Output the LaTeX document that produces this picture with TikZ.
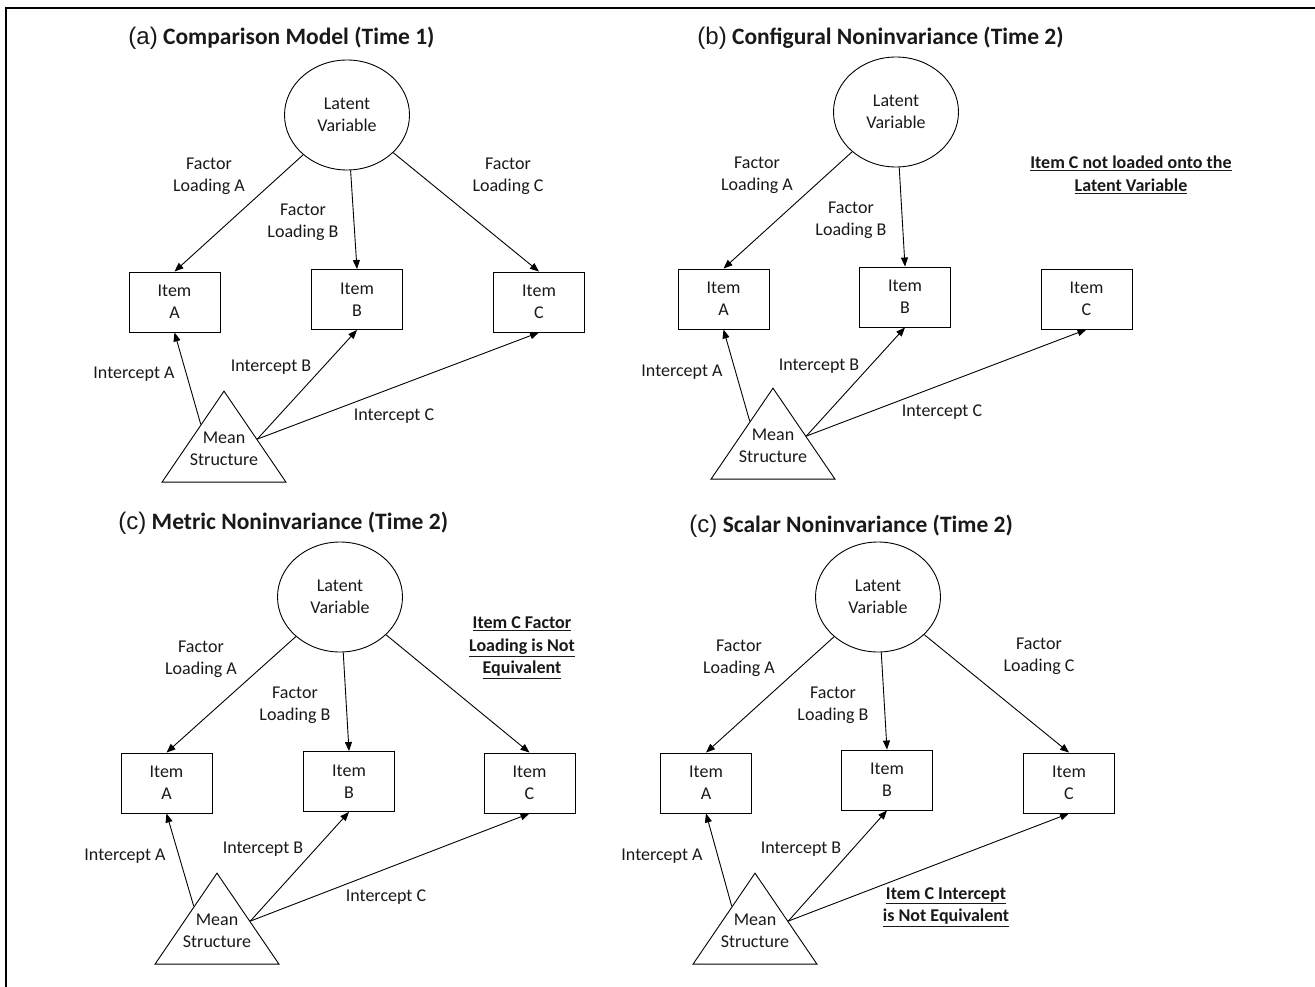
\documentclass[tikz,border=0pt]{standalone}
\usepackage{fontspec}
\setmainfont{Carlito}
\newfontfamily\arialfont{Liberation Sans}
\usepackage{xcolor}
\usepackage{tikz}
\usetikzlibrary{shapes.geometric,calc,arrows.meta}
\tikzstyle{latent} = [ellipse, draw=black, minimum width=125pt, minimum height=110pt, align=center, inner sep=0pt]
\tikzstyle{item} = [rectangle, draw=black, minimum width=91pt, minimum height=60pt, align=center]
\tikzstyle{mean} = [isosceles triangle, isosceles triangle stretches, shape border rotate=90, draw=black, minimum width=124pt, minimum height=91pt, inner sep=0pt, anchor=apex]
\tikzstyle{lbl} = [align=center, inner sep=1pt]
\tikzstyle{note} = [align=center, inner sep=1pt, font=\bfseries\fontsize{18}{22.5}\selectfont]
\tikzstyle{title} = [anchor=west, inner sep=0pt, font=\bfseries\fontsize{23.5}{27}\selectfont]
\tikzstyle{arrow} = [->, >={Triangle[length=9pt,width=7pt]}]
\newcommand{\panel}[1]{{\arialfont\mdseries\fontsize{24}{27}\selectfont (#1)}}

\begin{document}
\begin{tikzpicture}[x=1pt, y=-1pt, line width=0.9pt, font=\fontsize{18}{22}\selectfont, text=black!90]
    \useasboundingbox (0,0) rectangle (1315,987);
    \draw[line width=2.5pt] (6,990) -- (6,8) -- (1320,8);

    % (a) comparison model
    \node (title1) [title] at (128,38) {\panel{a} Comparison Model (Time 1)};
    \node (LV1) [latent] at (347,115) {Latent\\Variable};
    \node (ItemA1) [item] at (174.5,302) {Item\\A};
    \node (ItemB1) [item] at (357,299.5) {Item\\B};
    \node (ItemC1) [item] at (539,302) {Item\\C};
    \node (MS1) [mean] at (224,390) {};
    \node (MST1) [lbl] at (224,449) {Mean\\Structure};
    \node (FLA1) [lbl] at (209,176) {Factor\\Loading A};
    \node (FLB1) [lbl] at (303,222) {Factor\\Loading B};
    \node (FLC1) [lbl] at (508,176) {Factor\\Loading C};
    \node (ICA1) [lbl] at (134,374) {Intercept A};
    \node (ICB1) [lbl] at (271,367) {Intercept B};
    \node (ICC1) [lbl] at (394,416) {Intercept C};
    \draw [arrow] (LV1) -- (ItemA1.north);
    \draw [arrow] (LV1) -- (ItemB1.north);
    \draw [arrow] (LV1) -- (ItemC1.north);
    \draw [arrow] ($(MS1.apex)!0.37!(MS1.left corner)$) -- (ItemA1.south);
    \draw [arrow] ($(MS1.apex)!0.53!(MS1.right corner)$) -- (ItemB1.south);
    \draw [arrow] ($(MS1.apex)!0.53!(MS1.right corner)$) -- (ItemC1.south);

    % (b) configural noninvariance
    \node (title2) [title] at (697,38) {\panel{b} Configural Noninvariance (Time 2)};
    \node (LV2) [latent] at (896,112) {Latent\\Variable};
    \node (ItemA2) [item] at (723.5,299) {Item\\A};
    \node (ItemB2) [item] at (905,297) {Item\\B};
    \node (ItemC2) [item] at (1086.5,299) {Item\\C};
    \node (MS2) [mean] at (773,387) {};
    \node (MST2) [lbl] at (773,446) {Mean\\Structure};
    \node (FLA2) [lbl] at (757,175) {Factor\\Loading A};
    \node (FLB2) [lbl] at (851,220) {Factor\\Loading B};
    \node (note2) [note] at (1131,175) {\underline{Item C not loaded onto the}\\\underline{Latent Variable}};
    \node (ICA2) [lbl] at (682,372) {Intercept A};
    \node (ICB2) [lbl] at (819,366) {Intercept B};
    \node (ICC2) [lbl] at (942,412) {Intercept C};
    \draw [arrow] (LV2) -- (ItemA2.north);
    \draw [arrow] (LV2) -- (ItemB2.north);
    \draw [arrow] ($(MS2.apex)!0.37!(MS2.left corner)$) -- (ItemA2.south);
    \draw [arrow] ($(MS2.apex)!0.53!(MS2.right corner)$) -- (ItemB2.south);
    \draw [arrow] ($(MS2.apex)!0.53!(MS2.right corner)$) -- (ItemC2.south);

    % (c) metric noninvariance
    \node (title3) [title] at (118,523) {\panel{c} Metric Noninvariance (Time 2)};
    \node (LV3) [latent] at (340,597) {Latent\\Variable};
    \node (ItemA3) [item] at (166.5,783) {Item\\A};
    \node (ItemB3) [item] at (349,781.5) {Item\\B};
    \node (ItemC3) [item] at (529.5,783) {Item\\C};
    \node (MS3) [mean] at (217,872) {};
    \node (MST3) [lbl] at (217,931) {Mean\\Structure};
    \node (FLA3) [lbl] at (201,659) {Factor\\Loading A};
    \node (FLB3) [lbl] at (295,705) {Factor\\Loading B};
    \node (note3) [note] at (522,648) {\underline{Item C Factor}\\\underline{Loading is Not}\\\underline{Equivalent}};
    \node (ICA3) [lbl] at (125,856) {Intercept A};
    \node (ICB3) [lbl] at (263,849) {Intercept B};
    \node (ICC3) [lbl] at (386,897) {Intercept C};
    \draw [arrow] (LV3) -- (ItemA3.north);
    \draw [arrow] (LV3) -- (ItemB3.north);
    \draw [arrow] (LV3) -- (ItemC3.north);
    \draw [arrow] ($(MS3.apex)!0.37!(MS3.left corner)$) -- (ItemA3.south);
    \draw [arrow] ($(MS3.apex)!0.53!(MS3.right corner)$) -- (ItemB3.south);
    \draw [arrow] ($(MS3.apex)!0.53!(MS3.right corner)$) -- (ItemC3.south);

    % scalar noninvariance
    \node (title4) [title] at (689,526) {\panel{c} Scalar Noninvariance (Time 2)};
    \node (LV4) [latent] at (878,597) {Latent\\Variable};
    \node (ItemA4) [item] at (706,783) {Item\\A};
    \node (ItemB4) [item] at (887,780) {Item\\B};
    \node (ItemC4) [item] at (1069,783) {Item\\C};
    \node (MS4) [mean] at (755,872) {};
    \node (MST4) [lbl] at (755,931) {Mean\\Structure};
    \node (FLA4) [lbl] at (739,658) {Factor\\Loading A};
    \node (FLB4) [lbl] at (833,705) {Factor\\Loading B};
    \node (FLC4) [lbl] at (1039,656) {Factor\\Loading C};
    \node (ICA4) [lbl] at (662,856) {Intercept A};
    \node (ICB4) [lbl] at (801,849) {Intercept B};
    \node (note4) [note] at (946,907) {\underline{Item C Intercept}\\\underline{is Not Equivalent}};
    \draw [arrow] (LV4) -- (ItemA4.north);
    \draw [arrow] (LV4) -- (ItemB4.north);
    \draw [arrow] (LV4) -- (ItemC4.north);
    \draw [arrow] ($(MS4.apex)!0.37!(MS4.left corner)$) -- (ItemA4.south);
    \draw [arrow] ($(MS4.apex)!0.53!(MS4.right corner)$) -- (ItemB4.south);
    \draw [arrow] ($(MS4.apex)!0.53!(MS4.right corner)$) -- (ItemC4.south);
\end{tikzpicture}
\end{document}
